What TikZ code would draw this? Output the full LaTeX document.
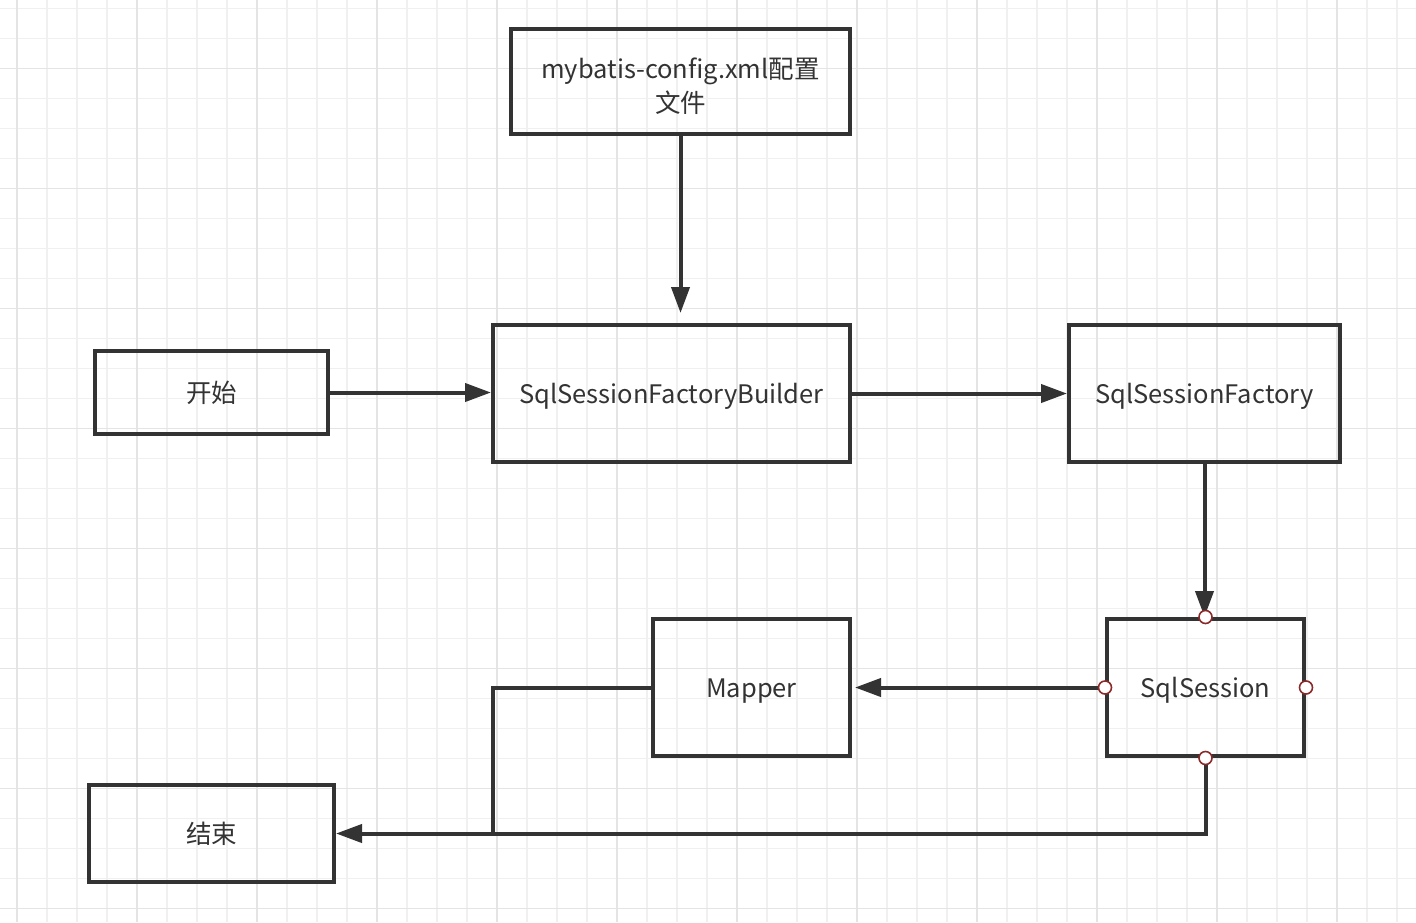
\documentclass[tikz,border=0pt]{standalone}
\usepackage{fontspec}
\setmainfont{Noto Sans CJK SC}
\usetikzlibrary{arrows.meta}
\definecolor{ink}{HTML}{333333}
\definecolor{gridminor}{HTML}{F0F0F0}
\definecolor{gridmajor}{HTML}{E4E4E4}
\definecolor{portred}{HTML}{8B2A2A}
\tikzset{
  box/.style={draw=ink, line width=4pt, text=ink, inner sep=0pt, align=center,
    font=\fontsize{25.5}{34}\selectfont},
  oneline/.style={text height=24pt, text depth=5pt},
  arr/.style={draw=ink, line width=4pt, -{Triangle[length=26pt, width=18pt]}},
  wire/.style={draw=ink, line width=4pt},
  port/.style={circle, draw=portred, fill=white, line width=1.6pt, minimum size=13pt, inner sep=0pt},
}
\begin{document}
\begin{tikzpicture}[x=1pt, y=-1pt]
  \fill[white] (0,0) rectangle (1416,922);
  \useasboundingbox (0,0) rectangle (1416,922);
  \foreach \k in {0,...,46} \draw[gridminor, line width=1.6pt] (16.7+30*\k,0) -- (16.7+30*\k,922);
  \foreach \k in {0,...,30} \draw[gridminor, line width=1.6pt] (0,8.3+30*\k) -- (1416,8.3+30*\k);
  \foreach \k in {0,...,11} \draw[gridmajor, line width=1.6pt] (16.7+120*\k,0) -- (16.7+120*\k,922);
  \foreach \k in {0,...,7} \draw[gridmajor, line width=1.6pt] (0,68.3+120*\k) -- (1416,68.3+120*\k);

  \node[box, minimum width=339pt, minimum height=105pt] (cfg) at (680.5,81.5) {\rule{0pt}{30pt}mybatis-config.xml配置\\文件};
  \node[box, oneline, minimum width=233pt, minimum height=83pt] (start) at (211.5,392.5) {开始};
  \node[box, oneline, minimum width=357pt, minimum height=137pt] (builder) at (671.5,393.5) {SqlSessionFactoryBuilder};
  \node[box, oneline, minimum width=271pt, minimum height=137pt] (factory) at (1204.5,393.5) {SqlSessionFactory};
  \node[box, oneline, minimum width=197pt, minimum height=137pt] (session) at (1205.5,687.5) {SqlSession};
  \node[box, oneline, minimum width=197pt, minimum height=137pt] (mapper) at (751.5,687.5) {Mapper};
  \node[box, oneline, minimum width=245pt, minimum height=97pt] (finish) at (211.5,833.5) {结束};
  \coordinate (join) at (493,833.5);

  \draw[arr] (cfg.south) -- ([yshift=10pt]cfg.south |- builder.north);
  \draw[arr] (start.east) -- (start.east -| builder.west);
  \draw[arr] (builder.east) -- (builder.east -| factory.west);
  \draw[arr] (factory.south) -- (factory.south |- session.north);
  \draw[arr] (session.west) -- ([xshift=3pt]mapper.east);
  \draw[wire] (mapper.west) -| (join);
  \draw[arr] (session.south) |- (finish.east);

  \foreach \a in {north,south,east,west} \node[port] at (session.\a) {};
\end{tikzpicture}
\end{document}
